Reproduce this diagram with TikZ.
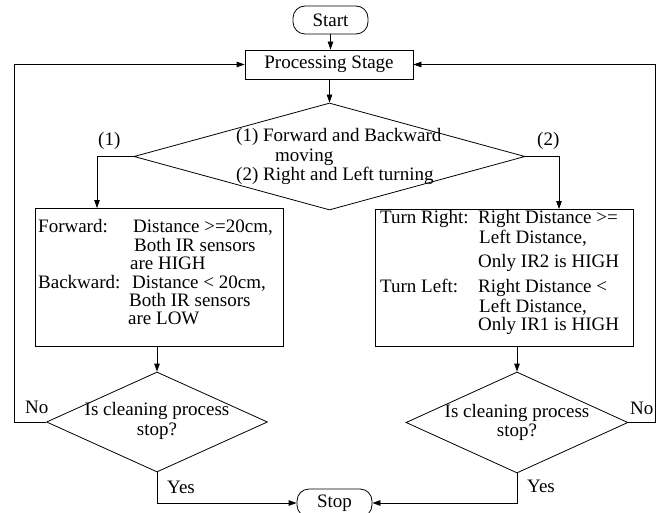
\documentclass[tikz,border=0pt]{standalone}
\usepackage{fontspec}
\setmainfont{Liberation Serif}
\usetikzlibrary{shapes.geometric,arrows.meta}
\begin{document}
\begin{tikzpicture}[x=1pt,y=-1pt,
  every node/.style={font=\fontsize{19}{19}\selectfont},
  ln/.style={line width=0.8pt},
  arr/.style={ln,-{Triangle[length=8pt,width=5.5pt]}},
  term/.style={draw,ln,rounded corners=12pt,minimum width=75pt,minimum height=28pt,inner sep=0},
  boxn/.style={draw,ln,rectangle,inner sep=0},
  dia/.style={draw,ln,diamond,inner sep=0},
  txt/.style={inner sep=0,anchor=base west},
  ctxt/.style={inner sep=0,anchor=base},
]
\useasboundingbox (0,0) rectangle (660,513);

% nodes
\node[term] (start) at (330.5,20) {Start};
\node[boxn,minimum width=168pt,minimum height=29pt] (proc) at (329,64.5) {Processing Stage};
\node[dia,minimum width=391pt,minimum height=107pt] (dm) at (329.5,156.5) {};
\node[boxn,minimum width=248pt,minimum height=138pt] (lbox) at (159,277) {};
\node[boxn,minimum width=258pt,minimum height=137pt] (rbox) at (504,277.5) {};
\node[dia,minimum width=221pt,minimum height=100pt] (ld) at (157,422) {};
\node[dia,minimum width=222pt,minimum height=101pt] (rd) at (517,422.5) {};
\node[term] (stop) at (334.5,503) {Stop};

% main diamond text
\node[txt] (m1) at (236,142) {(1) Forward and Backward};
\node[txt] (m2) at (275,161) {moving};
\node[txt] (m3) at (236,180) {(2) Right and Left turning};

% left box text
\node[txt] (l1) at (38,232) {Forward:};
\node[txt] (l2) at (133,232) {Distance >=20cm,};
\node[txt] (l3) at (134,251) {Both IR sensors};
\node[txt] (l4) at (130,269) {are HIGH};
\node[txt] (l5) at (38,288) {Backward:};
\node[txt] (l6) at (132,288) {Distance < 20cm,};
\node[txt] (l7) at (129,306) {Both IR sensors};
\node[txt] (l8) at (128,324) {are LOW};

% right box text
\node[txt] (r1) at (380,223) {Turn Right:};
\node[txt] (r2) at (478,223) {Right Distance >=};
\node[txt] (r3) at (479,243) {Left Distance,};
\node[txt] (r4) at (478,267) {Only IR2 is HIGH};
\node[txt] (r5) at (380,292) {Turn Left:};
\node[txt] (r6) at (478,292) {Right Distance <};
\node[txt] (r7) at (479,312) {Left Distance,};
\node[txt] (r8) at (478,330) {Only IR1 is HIGH};

% decision texts
\node[ctxt] (ld1) at (157,415) {Is cleaning process};
\node[ctxt] (ld2) at (157,435) {stop?};
\node[ctxt] (rd1) at (517,417) {Is cleaning process};
\node[ctxt] (rd2) at (517,436) {stop?};

% labels
\node[txt] (lab1) at (98,146) {(1)};
\node[txt] (lab2) at (537,146) {(2)};
\node[txt] (nol) at (25,413) {No};
\node[txt] (nor) at (630,414) {No};
\node[txt] (yesl) at (167,493) {Yes};
\node[txt] (yesr) at (527,492) {Yes};

% helper coordinates
\coordinate (lin) at (97,208);
\coordinate (rin) at (559,209);
\coordinate (lout) at (14,422);
\coordinate (rout) at (655,422.5);

% connectors
\draw[arr] (start.south) -- (start.south |- proc.north);
\draw[arr] (proc.south -| dm.north) -- (dm.north);
\draw[arr] (dm.west) -| (lin);
\draw[arr] (dm.east) -| (rin);
\draw[arr] (ld.north |- lbox.south) -- (ld.north);
\draw[arr] (rd.north |- rbox.south) -- (rd.north);
\draw[arr] (ld.west) -- (lout) |- (proc.west);
\draw[arr] (rd.east) -- (rout) |- (proc.east);
\draw[arr] (ld.south) |- (stop.west);
\draw[arr] (rd.south) |- (stop.east);
\end{tikzpicture}
\end{document}
